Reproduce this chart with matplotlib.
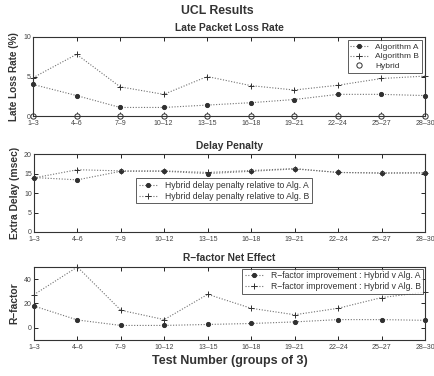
import matplotlib
matplotlib.use("Agg")
import matplotlib.pyplot as plt
import numpy as np

plt.rcParams['font.family'] = ['Liberation Sans', 'DejaVu Sans']

groups = ["1–3", "4–6", "7–9", "10–12", "13–15", "16–18", "19–21", "22–24", "25–27", "28–30"]

loss_alg_a = [4.0, 2.6, 1.1, 1.1, 1.4, 1.7, 2.1, 2.75, 2.75, 2.6]
loss_alg_b = [4.85, 7.8, 3.7, 2.75, 5.0, 3.85, 3.3, 3.9, 4.75, 5.05]
loss_hybrid = [0, 0, 0, 0, 0, 0, 0, 0, 0, 0]

delay_vs_a = [14.0, 13.4, 15.6, 15.6, 15.0, 15.6, 16.2, 15.3, 15.1, 15.2]
delay_vs_b = [13.9, 16.0, 15.7, 15.7, 15.3, 15.8, 16.3, 15.3, 15.2, 15.2]

rf_vs_a = [17.9, 6.4, 1.9, 1.9, 2.7, 3.5, 4.8, 6.7, 6.7, 6.1]
rf_vs_b = [27.2, 50.0, 14.4, 6.7, 27.5, 16.0, 10.7, 16.0, 24.8, 29.3]

x = np.arange(len(groups))
line_col = '#707070'
mark_col = '#303030'
txt_col = '#333333'

fig = plt.figure(figsize=(4.35, 3.76), dpi=100)

def style(ax, ylim, yticks):
    ax.set_xlim(0, len(groups) - 1)
    ax.set_ylim(*ylim)
    ax.set_xticks(x)
    ax.set_xticklabels(groups, fontsize=5, color='#444444')
    ax.set_yticks(yticks)
    ax.set_yticklabels([str(t) for t in yticks], fontsize=5, color='#444444')
    ax.tick_params(direction='in', top=True, right=True, length=3, width=0.6, pad=1.5)
    ax.tick_params(axis='x', pad=3)
    for s in ax.spines.values():
        s.set_linewidth(0.8)
        s.set_color(txt_col)

def line(ax, y, marker, label, ms=3.2, mfc=None):
    ax.plot(x, y, linestyle=(0, (1, 1.5)), color=line_col, linewidth=0.8,
            marker=marker, markersize=ms, markeredgecolor=mark_col,
            markerfacecolor=mfc if mfc is not None else mark_col,
            markeredgewidth=0.7, label=label, clip_on=False)

def leg_style(leg):
    leg.get_frame().set_linewidth(0.7)
    for t in leg.get_texts():
        t.set_color(txt_col)

# Panel 1
ax1 = fig.add_axes([0.076, 0.691, 0.901, 0.211])
line(ax1, loss_alg_a, 'o', 'Algorithm A', ms=3)
line(ax1, loss_alg_b, '+', 'Algorithm B', ms=4)
ax1.plot(x, loss_hybrid, linestyle='none', marker='o', markersize=3.8,
         markerfacecolor='white', markeredgecolor=mark_col, markeredgewidth=0.7,
         label='Hybrid', clip_on=False)
style(ax1, (0, 10), [0, 5, 10])
ax1.set_ylabel('Late Loss Rate (%)', fontsize=7.2, fontweight='bold', color=txt_col, labelpad=3)
ax1.set_title('Late Packet Loss Rate', fontsize=7.4, fontweight='bold', color=txt_col, pad=4)
leg1 = ax1.legend(loc='upper right', fontsize=6, frameon=True, fancybox=False,
                  edgecolor=txt_col, handlelength=2.2, borderpad=0.3, labelspacing=0.25,
                  borderaxespad=0.4)
leg_style(leg1)

# Panel 2
ax2 = fig.add_axes([0.078, 0.383, 0.899, 0.207])
line(ax2, delay_vs_a, 'o', 'Hybrid delay penalty relative to Alg. A', ms=3)
line(ax2, delay_vs_b, '+', 'Hybrid delay penalty relative to Alg. B', ms=4)
style(ax2, (0, 20), [0, 5, 10, 15, 20])
ax2.set_ylabel('Extra Delay (msec)', fontsize=7.4, fontweight='bold', color=txt_col, labelpad=3)
ax2.set_title('Delay Penalty', fontsize=7.4, fontweight='bold', color=txt_col, pad=4)
leg2 = ax2.legend(loc='center', bbox_to_anchor=(0.486, 0.53), fontsize=6.2, frameon=True,
                  fancybox=False, edgecolor=txt_col, handlelength=2.2, borderpad=0.3,
                  labelspacing=0.25)
leg_style(leg2)

# Panel 3
ax3 = fig.add_axes([0.078, 0.096, 0.899, 0.194])
line(ax3, rf_vs_a, 'o', 'R\u2212factor improvement : Hybrid v Alg. A', ms=3)
line(ax3, rf_vs_b, '+', 'R\u2212factor improvement : Hybrid v Alg. B', ms=4)
style(ax3, (-10, 50), [0, 20, 40])
ax3.set_ylabel('R\u2212factor', fontsize=7.4, fontweight='bold', color=txt_col, labelpad=3)
ax3.set_title('R\u2212factor Net Effect', fontsize=7.4, fontweight='bold', color=txt_col, pad=4)
ax3.set_xlabel('Test Number (groups of 3)', fontsize=9, fontweight='bold', color=txt_col, labelpad=3)
leg3 = ax3.legend(loc='upper right', fontsize=6.2, frameon=True, fancybox=False,
                  edgecolor=txt_col, handlelength=2.2, borderpad=0.3, labelspacing=0.25,
                  borderaxespad=0.2)
leg_style(leg3)

fig.text(0.5, 0.972, 'UCL Results', ha='center', va='center', fontsize=8.8,
         fontweight='bold', color=txt_col)

fig.savefig('out.png', dpi=100)
